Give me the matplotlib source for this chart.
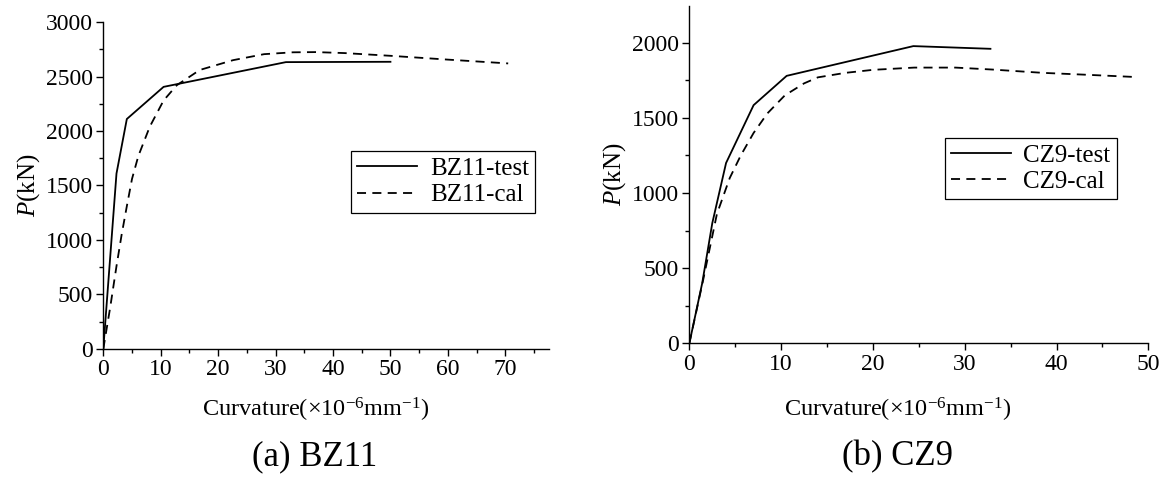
import matplotlib
matplotlib.use('Agg')
import matplotlib.pyplot as plt
from matplotlib.ticker import MultipleLocator

# Moment-curvature data: curvature in 1e-6/mm, load P in kN
bz11_test_x = [0, 2.3, 4.1, 10.5, 31.8, 50.0]
bz11_test_p = [0, 1610, 2110, 2405, 2632, 2635]
bz11_cal_x = [0, 1.2, 2.3, 3.2, 4.1, 5.0, 6.1, 8.1, 9.6, 10.5, 12.8, 16.8,
              22.6, 28.0, 33.0, 37.0, 42.0, 50.0, 60.0, 70.5]
bz11_cal_p = [0, 380, 760, 1050, 1310, 1560, 1770, 2040, 2190, 2280, 2420,
              2560, 2650, 2705, 2722, 2724, 2715, 2690, 2655, 2620]

cz9_test_x = [0, 1.4, 2.5, 4.0, 7.0, 10.6, 24.4, 32.8]
cz9_test_p = [0, 400, 800, 1200, 1585, 1780, 1978, 1960]
cz9_cal_x = [0, 1.5, 3.0, 4.4, 5.6, 7.0, 8.5, 10.4, 12.5, 14.0, 17.0, 20.0,
             24.5, 29.0, 33.0, 38.5, 43.0, 48.7]
cz9_cal_p = [0, 420, 860, 1100, 1250, 1400, 1530, 1650, 1730, 1770, 1800,
             1820, 1835, 1835, 1822, 1800, 1788, 1772]

plt.rcParams['font.family'] = ['Liberation Serif', 'DejaVu Serif']
plt.rcParams['mathtext.fontset'] = 'custom'
plt.rcParams['mathtext.rm'] = 'Liberation Serif'
plt.rcParams['mathtext.it'] = 'Liberation Serif:italic'

fig = plt.figure(figsize=(11.67, 4.87), dpi=100)
ax1 = fig.add_axes([0.0885, 0.2834, 0.3819, 0.6714])
ax2 = fig.add_axes([0.5907, 0.2951, 0.3933, 0.6926])

DASH = (5.0, 3.5)


def style_axis(ax, xmax, ymax, xmajor, ymajor):
    ax.set_xlim(0, xmax)
    ax.set_ylim(0, ymax)
    for side in ('top', 'right'):
        ax.spines[side].set_visible(False)
    for side in ('left', 'bottom'):
        ax.spines[side].set_linewidth(1.0)
    ax.xaxis.set_major_locator(MultipleLocator(xmajor))
    ax.xaxis.set_minor_locator(MultipleLocator(xmajor / 2))
    ax.yaxis.set_major_locator(MultipleLocator(ymajor))
    ax.yaxis.set_minor_locator(MultipleLocator(ymajor / 2))
    ax.tick_params(which='major', direction='out', length=5, width=1.0,
                   labelsize=17, pad=2.5)
    ax.tick_params(which='minor', direction='out', length=3, width=1.0)
    ax.set_ylabel('$P$(kN)', fontsize=18, labelpad=3)


def add_legend(ax, anchor):
    leg = ax.legend(loc='upper left', bbox_to_anchor=anchor, borderaxespad=0,
                    fontsize=18, frameon=True, fancybox=False, framealpha=1,
                    edgecolor='black', handlelength=2.4, handletextpad=0.5,
                    labelspacing=0.15, borderpad=0.25)
    leg.get_frame().set_linewidth(0.9)


# (a) BZ11
ax1.plot(bz11_test_x, bz11_test_p, color='black', lw=1.3, label='BZ11-test')
ax1.plot(bz11_cal_x, bz11_cal_p, color='black', lw=1.3, dashes=DASH,
         label='BZ11-cal')
style_axis(ax1, 77.6, 3000, 10, 500)
add_legend(ax1, (0.556, 0.604))

# (b) CZ9
ax2.plot(cz9_test_x, cz9_test_p, color='black', lw=1.3, label='CZ9-test')
ax2.plot(cz9_cal_x, cz9_cal_p, color='black', lw=1.3, dashes=DASH,
         label='CZ9-cal')
style_axis(ax2, 50, 2245, 10, 500)
add_legend(ax2, (0.556, 0.609))

xlab = 'Curvature(\u00d710$^{-6}$mm$^{-1}$)'
fig.text(316 / 1167, 1 - 410 / 487, xlab, fontsize=17.5, ha='center', va='center')
fig.text(898 / 1167, 1 - 410 / 487, xlab, fontsize=17.5, ha='center', va='center')
fig.text(315 / 1167, 1 - 457 / 487, '(a) BZ11', fontsize=25, ha='center', va='center')
fig.text(898 / 1167, 1 - 457 / 487, '(b) CZ9', fontsize=25, ha='center', va='center')

fig.savefig('out.png', dpi=100)
